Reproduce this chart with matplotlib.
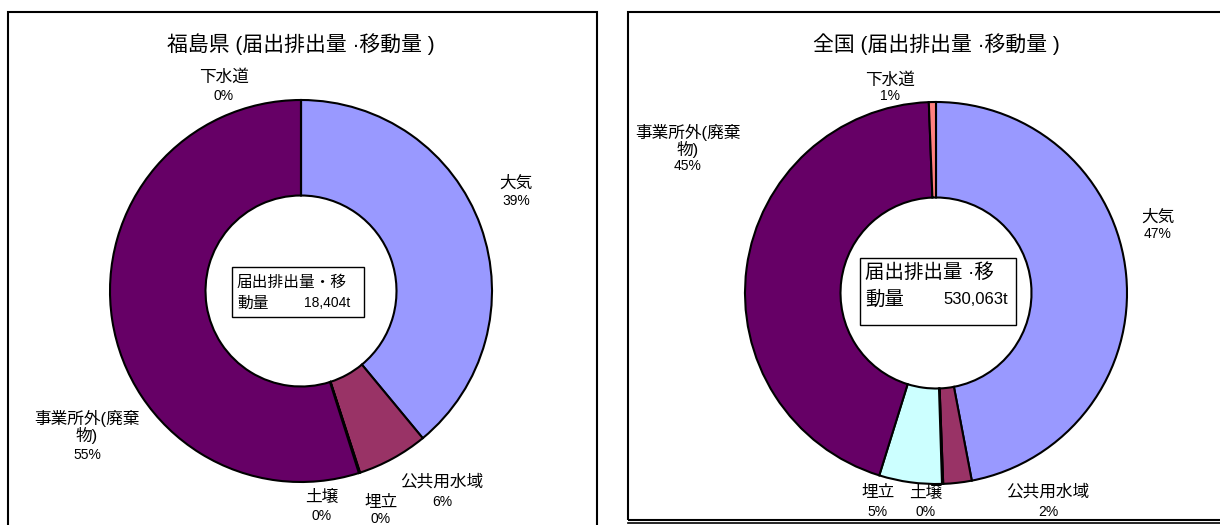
import matplotlib
matplotlib.use("Agg")
import matplotlib.pyplot as plt
from matplotlib.patches import Rectangle

plt.rcParams['font.family'] = ['Liberation Sans', 'Noto Sans CJK JP', 'DejaVu Sans']

categories = ['大気', '公共用水域', '土壌', '埋立', '事業所外(廃棄\n物)', '下水道']
colors = ['#9999FF', '#993366', '#FFFFCC', '#CCFFFF', '#660066', '#FF8080']

fukushima_values = [39.0, 6.0, 0.05, 0.05, 54.9, 0.0]
national_values = [47.0, 2.4, 0.1, 5.3, 44.6, 0.6]

fukushima_title = '福島県 (届出排出量 ·移動量 )'
national_title = '全国 (届出排出量 ·移動量 )'
fukushima_total = ('届出排出量・移', '動量', '18,404t')
national_total = ('届出排出量 ·移', '動量', '530,063t')

W, H = 1220, 525
fig = plt.figure(figsize=(W / 100, H / 100), dpi=100)
ax = fig.add_axes([0, 0, 1, 1])


def Y(y):
    return H - y


def donut(values, cx, cy, r):
    ax.pie(values, colors=colors, startangle=90, counterclock=False,
           center=(cx, Y(cy)), radius=r,
           wedgeprops=dict(width=r * 0.5, edgecolor='black', linewidth=1.5))


donut(fukushima_values, 301, 291, 191)
donut(national_values, 936, 293, 191)

ax.set_xlim(0, W)
ax.set_ylim(0, H)
ax.set_aspect('auto')
ax.axis('off')

# panel borders
ax.add_patch(Rectangle((8, Y(530)), 589, 518, fill=False, edgecolor='black', linewidth=1.5))
ax.add_patch(Rectangle((628, Y(520)), 600, 508, fill=False, edgecolor='black', linewidth=1.5))
ax.plot([628, 1220], [Y(523), Y(523)], color='black', linewidth=1.2)

# titles
ax.text(301, Y(44), fukushima_title, ha='center', va='center', fontsize=15)
ax.text(936, Y(44), national_title, ha='center', va='center', fontsize=15)

LFS = 12
PFS = 10


def pct(v):
    return f'{int(round(v))}%'


def label(x, y, name, v, pct_off):
    ax.text(x, Y(y), name, ha='center', va='center', fontsize=LFS, linespacing=1.0)
    ax.text(x, Y(y + pct_off), pct(v), ha='center', va='center', fontsize=PFS)


# Fukushima labels (x, y of name centre, offset to percent)
fk_pos = [(516, 183, 18), (442, 482, 20), (322, 497, 19), (381, 502, 17), (87, 427, 28), (224, 77, 19)]
for (x, y, off), name, v in zip(fk_pos, categories, fukushima_values):
    label(x, y, name, v, off)

# National labels
nt_pos = [(1158, 217, 17), (1048, 492, 20), (926, 493, 19), (878, 493, 19), (688, 141, 25), (890, 80, 16)]
for (x, y, off), name, v in zip(nt_pos, categories, national_values):
    label(x, y, name, v, off)

# center boxes
ax.add_patch(Rectangle((232, Y(317)), 132, 50, facecolor='white', edgecolor='black', linewidth=1))
ax.text(237, Y(282), fukushima_total[0], ha='left', va='center', fontsize=11.3)
ax.text(237, Y(303), fukushima_total[1], ha='left', va='center', fontsize=11.3)
ax.text(350, Y(303), fukushima_total[2], ha='right', va='center', fontsize=10)

ax.add_patch(Rectangle((860, Y(325)), 156, 67, facecolor='white', edgecolor='black', linewidth=1))
ax.text(865, Y(273), national_total[0], ha='left', va='center', fontsize=14)
ax.text(865, Y(300), national_total[1], ha='left', va='center', fontsize=14)
ax.text(1008, Y(300), national_total[2], ha='right', va='center', fontsize=12)

fig.savefig('out.png', dpi=100)
